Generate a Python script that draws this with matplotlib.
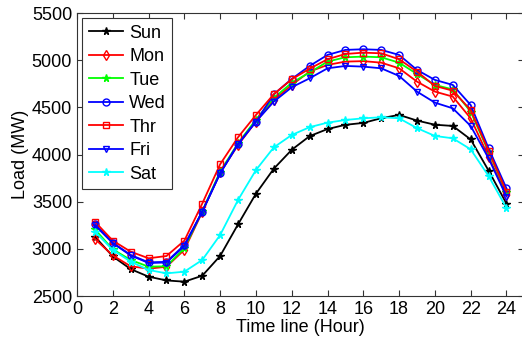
import numpy as np
import matplotlib
matplotlib.use('Agg')
import matplotlib.pyplot as plt

plt.rcParams['font.family'] = ['Liberation Sans', 'DejaVu Sans']

hours = np.arange(1, 25)

# hourly load (MW)
sun = [3130, 2920, 2785, 2705, 2665, 2652, 2715, 2925, 3260, 3585, 3850, 4050,
       4195, 4270, 4315, 4335, 4385, 4420, 4360, 4316, 4303, 4160, 3830, 3480]
mon = [3105, 2930, 2815, 2790, 2810, 2990, 3390, 3810, 4100, 4350, 4578, 4738,
       4879, 4950, 4985, 4990, 4974, 4914, 4773, 4667, 4614, 4384, 3977, 3571]
tue = [3207, 2995, 2882, 2811, 2815, 3006, 3400, 3820, 4120, 4370, 4600, 4760,
       4870, 4985, 5031, 5038, 5031, 4974, 4854, 4738, 4690, 4454, 4030, 3600]
wed = [3264, 3065, 2935, 2857, 2862, 3041, 3395, 3801, 4112, 4349, 4639, 4801,
       4939, 5056, 5109, 5116, 5109, 5056, 4897, 4791, 4738, 4525, 4066, 3642]
thr = [3288, 3087, 2970, 2900, 2924, 3087, 3480, 3897, 4183, 4419, 4640, 4798,
       4910, 5010, 5066, 5080, 5073, 5010, 4879, 4727, 4677, 4472, 4041, 3606]
fri = [3250, 3060, 2930, 2850, 2855, 3030, 3395, 3801, 4110, 4349, 4561, 4713,
       4808, 4914, 4939, 4932, 4914, 4833, 4667, 4550, 4490, 4303, 3960, 3554]
sat = [3182, 2988, 2864, 2776, 2740, 2758, 2882, 3147, 3518, 3835, 4076, 4207,
       4290, 4338, 4366, 4384, 4395, 4384, 4280, 4197, 4172, 4055, 3772, 3433]

series = [
    ('Sun', sun, 'k', '*', True),
    ('Mon', mon, '#ff0000', 'd', False),
    ('Tue', tue, '#00ff00', '*', True),
    ('Wed', wed, '#0000ff', 'o', False),
    ('Thr', thr, '#ff0000', 's', False),
    ('Fri', fri, '#0000ff', 'v', False),
    ('Sat', sat, '#00ffff', '*', True),
]

fig = plt.figure(figsize=(5.22, 3.43), dpi=100)
ax = fig.add_axes([0.1475, 0.137, 0.857, 0.825])

for name, vals, col, mk, filled in series:
    ax.plot(hours, vals, color=col, marker=mk, ms=5 if mk != '*' else 5.5,
            mfc=col if filled else 'none', mec=col, mew=1.0, lw=1.3, label=name)

ax.set_xlim(0, 25)
ax.set_ylim(2500, 5500)
ax.set_xticks(np.arange(0, 25, 2))
ax.set_yticks(np.arange(2500, 5501, 500))
ax.tick_params(direction='in', top=True, right=True, labelsize=13, length=4,
               color='#333333')
for s in ax.spines.values():
    s.set_color('#333333')
ax.set_xlabel('Time line (Hour)', fontsize=13, labelpad=1)
ax.set_ylabel('Load (MW)', fontsize=13, labelpad=2)

leg = ax.legend(loc='upper left', fontsize=13, handlelength=1.9,
                handletextpad=0.35, labelspacing=0.36, borderpad=0.35,
                borderaxespad=0.3, fancybox=False, framealpha=1)
leg.get_frame().set_edgecolor('#333333')
leg.get_frame().set_linewidth(0.8)

fig.savefig('out.png', dpi=100)
